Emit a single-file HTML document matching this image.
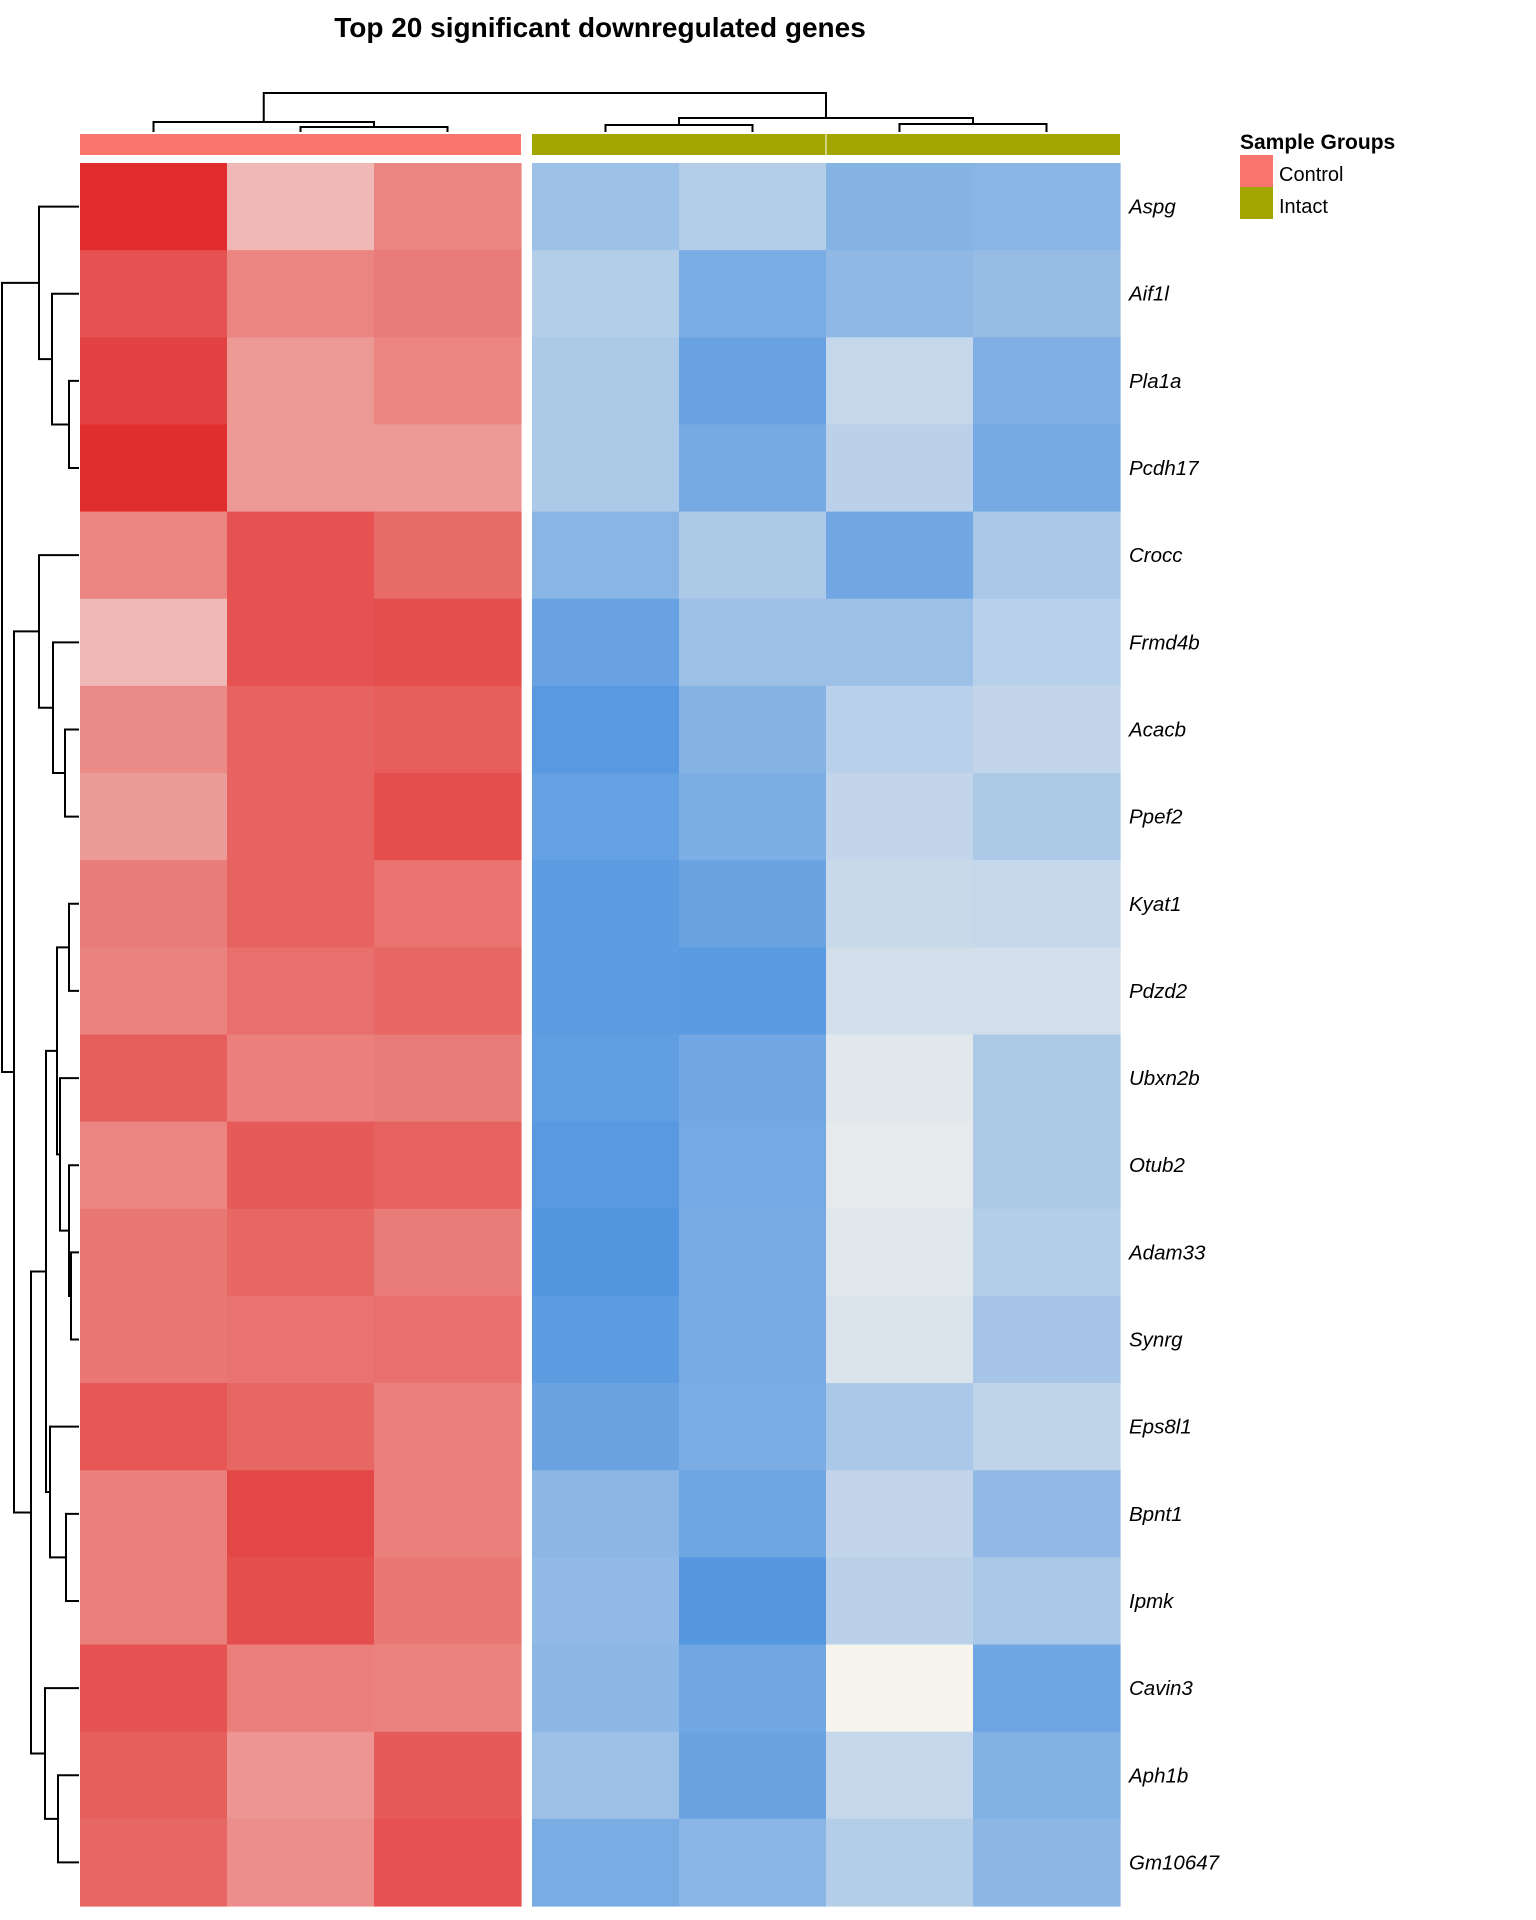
<!DOCTYPE html>
<html><head><meta charset="utf-8">
<style>
html,body{margin:0;padding:0;background:#fff;}
svg{display:block;}
text{font-family:"Liberation Sans",sans-serif;}
</style></head>
<body>
<svg id="chart" width="1536" height="1920" viewBox="0 0 1536 1920" xmlns="http://www.w3.org/2000/svg">
<text x="600" y="37" text-anchor="middle" font-size="28" font-weight="bold">Top 20 significant downregulated genes</text>
<g>
<text x="1240" y="149" font-size="21" font-weight="bold">Sample Groups</text>
<rect x="1240" y="155" width="33" height="32" fill="#F8766D"/>
<text x="1279" y="181" font-size="20">Control</text>
<rect x="1240" y="187" width="33" height="32" fill="#A3A500"/>
<text x="1279" y="213" font-size="20">Intact</text>
</g>
<g id="cells"></g>
<g id="annot"></g>
<g id="labels"></g>
<g id="rowdend"></g>
<g id="coldend"></g>
</svg>
<script>
const genes = ["Aspg","Aif1l","Pla1a","Pcdh17","Crocc","Frmd4b","Acacb","Ppef2","Kyat1","Pdzd2","Ubxn2b","Otub2","Adam33","Synrg","Eps8l1","Bpnt1","Ipmk","Cavin3","Aph1b","Gm10647"];
const samples = ["C1","C2","C3","I1","I2","I3","I4"];
const groups = ["Control","Control","Control","Intact","Intact","Intact","Intact"];
const values = [
[0.99,0.29,0.55,-0.54,-0.40,-0.68,-0.66],
[0.80,0.55,0.60,-0.40,-0.75,-0.62,-0.58],
[0.88,0.45,0.55,-0.45,-0.85,-0.30,-0.72],
[0.98,0.45,0.45,-0.45,-0.77,-0.36,-0.77],
[0.55,0.80,0.68,-0.66,-0.45,-0.80,-0.47],
[0.29,0.80,0.82,-0.85,-0.54,-0.54,-0.38],
[0.52,0.72,0.75,-0.95,-0.68,-0.38,-0.32],
[0.44,0.72,0.82,-0.88,-0.73,-0.32,-0.45],
[0.60,0.72,0.64,-0.92,-0.84,-0.28,-0.30],
[0.56,0.66,0.70,-0.92,-0.94,-0.22,-0.22],
[0.74,0.58,0.60,-0.90,-0.80,-0.13,-0.45],
[0.55,0.76,0.72,-0.95,-0.78,-0.10,-0.45],
[0.62,0.70,0.60,-0.98,-0.76,-0.13,-0.40],
[0.62,0.64,0.66,-0.92,-0.76,-0.17,-0.48],
[0.78,0.70,0.58,-0.84,-0.74,-0.46,-0.33],
[0.58,0.85,0.58,-0.64,-0.82,-0.32,-0.60],
[0.58,0.82,0.62,-0.60,-0.97,-0.36,-0.47],
[0.80,0.58,0.56,-0.64,-0.80,0.00,-0.82],
[0.74,0.47,0.76,-0.54,-0.84,-0.30,-0.70],
[0.70,0.50,0.80,-0.75,-0.65,-0.40,-0.64]
];
// dendrogram trees: [height, left, right]; leaves are indices
const rowTree = [77,[40,0,[27,1,[10,2,3]]],[65,[40,4,[26,5,[14,6,7]]],[48,[33,[22,[10,8,9],[19,10,[10,11,[8,12,13]]]],[29,14,[13,15,16]]],[34,17,[21,18,19]]]]];
const colTree = [39,[10,0,[5,1,2]],[14,[7,3,4],[8,5,6]]];

const NS="http://www.w3.org/2000/svg";
const X0=80, COLW=147, GAP=11, Y0=163, ROWH=87.15;
function colX(j){return X0+j*COLW+(j>=3?GAP:0);}
function rowY(i){return Y0+i*ROWH;}
function mix(a,b,t){return a.map((v,k)=>Math.round(v+(b[k]-v)*t));}
function color(v){const n=[247,244,238],r=[224,42,42],b=[80,148,224];
 const c=v>=0?mix(n,r,Math.min(v,1)):mix(n,b,Math.min(-v,1));return `rgb(${c[0]},${c[1]},${c[2]})`;}
function mk(tag,attrs,parent){const e=document.createElementNS(NS,tag);for(const k in attrs)e.setAttribute(k,attrs[k]);parent.appendChild(e);return e;}

const cells=document.getElementById('cells');
values.forEach((row,i)=>row.forEach((v,j)=>{
 const r=mk('rect',{x:colX(j),y:rowY(i),width:COLW+0.6,height:ROWH+0.6,fill:color(v)},cells);
 
 
}));
const annot=document.getElementById('annot');
groups.forEach((g,j)=>{
 const r=mk('rect',{x:colX(j),y:134,width:COLW+(j===2||j===6?0:0.6),height:21,fill:g==="Control"?"#F8766D":"#A3A500"},annot);
 
 
});
mk('line',{x1:colX(5),y1:134,x2:colX(5),y2:155,stroke:'#fff','stroke-width':1},annot);
const labels=document.getElementById('labels');
genes.forEach((g,i)=>{
 const t=mk('text',{x:1129,y:rowY(i)+ROWH/2+7,'font-size':20.5,'font-style':'italic'},labels);
 t.textContent=g;
 
 
});
const rd=document.getElementById('rowdend');
function rx(h){return 79-h;}
function drawRow(n){
 if(typeof n==='number')return {pos:rowY(n)+ROWH/2,h:0};
 const a=drawRow(n[1]),b=drawRow(n[2]),x=rx(n[0]);
 const p=mk('path',{d:`M${rx(a.h)},${a.pos}H${x}V${b.pos}H${rx(b.h)}`,fill:'none',stroke:'#000','stroke-width':2},rd);
 
 
 return {pos:(a.pos+b.pos)/2,h:n[0]};
}
drawRow(rowTree);
const cd=document.getElementById('coldend');
function cy(h){return 132-h;}
function drawCol(n){
 if(typeof n==='number')return {pos:colX(n)+COLW/2,h:0};
 const a=drawCol(n[1]),b=drawCol(n[2]),y=cy(n[0]);
 const p=mk('path',{d:`M${a.pos},${cy(a.h)}V${y}H${b.pos}V${cy(b.h)}`,fill:'none',stroke:'#000','stroke-width':2},cd);
 
 
 return {pos:(a.pos+b.pos)/2,h:n[0]};
}
drawCol(colTree);
</script>
</body></html>
